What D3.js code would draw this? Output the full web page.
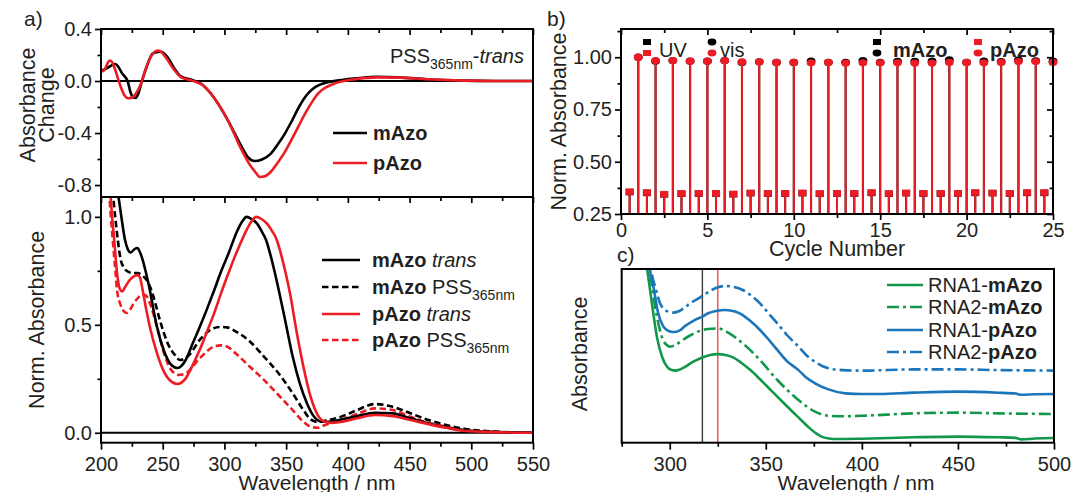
<!DOCTYPE html>
<html><head><meta charset="utf-8">
<script src="https://cdn.jsdelivr.net/npm/d3@7"></script>
<style>
body{margin:0;background:#fff}
text{font-family:"Liberation Sans",Arial,sans-serif;fill:#231f20}
</style>
</head><body>
<svg id="fig" width="1072" height="492"></svg>
<script>
// ---------- DATA ----------
// Panel a (top): absorbance change PSS365nm - trans, [wavelength nm, value]
const mAzoDiff = [[200,0.077],[203,0.09],[206,0.105],[209,0.122],[211.6,0.131],[214,0.11],[217,0.06],[221.7,-0.005],[224,-0.09],[226,-0.125],[228,-0.13],[230.5,-0.09],[233,-0.005],[237,0.11],[242,0.213],[247.7,0.226],[253.5,0.188],[259.3,0.098],[265,0.033],[273.8,0.008],[282.4,-0.031],[291,-0.121],[302.7,-0.30],[314,-0.506],[319,-0.585],[324.4,-0.615],[330,-0.605],[337.4,-0.56],[343,-0.49],[349,-0.404],[355,-0.30],[360.5,-0.198],[366,-0.115],[372,-0.057],[377,-0.03],[383.7,-0.01],[395,0.008],[406.8,0.021],[424,0.033],[441.5,0.028],[464.7,0.013],[493.6,0.003],[520,0.0],[550,0.0]];
const pAzoDiff = [[200,0.077],[201.5,0.075],[203,0.09],[205,0.13],[207,0.158],[209,0.145],[211.6,0.085],[214,0.01],[216,-0.044],[219,-0.11],[222,-0.132],[225,-0.128],[228,-0.10],[230.5,-0.06],[233,-0.005],[236.5,0.1],[240.5,0.188],[244,0.228],[246.5,0.234],[249,0.222],[252,0.188],[259.3,0.085],[265,0.028],[273.8,0.003],[282.4,-0.031],[291,-0.121],[302.7,-0.30],[314,-0.532],[320,-0.635],[325,-0.70],[328.7,-0.738],[332,-0.735],[337.4,-0.70],[343,-0.63],[349,-0.545],[355,-0.44],[360.5,-0.339],[366,-0.24],[372,-0.147],[376,-0.095],[380.8,-0.057],[389.5,-0.018],[401,0.008],[424,0.028],[441.5,0.026],[464.7,0.013],[493.6,0.003],[520,0.0],[550,0.0]];
// Panel a (bottom): normalised absorbance
const mAzoTrans = [[213.5,1.12],[216.5,1.0],[219.4,0.895],[221.7,0.85],[224,0.835],[227,0.85],[229.5,0.856],[232,0.83],[233.8,0.80],[236.5,0.74],[239.6,0.66],[242.5,0.57],[245.4,0.49],[251,0.38],[257,0.314],[262,0.30],[268.6,0.337],[274,0.41],[280,0.49],[286,0.575],[291.7,0.66],[297.5,0.75],[303.3,0.83],[310,0.93],[314,0.975],[318,1.0],[322,0.99],[327,0.965],[330,0.935],[333.6,0.895],[337,0.83],[340.9,0.74],[345,0.635],[349.6,0.51],[355.3,0.353],[361,0.23],[366.9,0.136],[372.7,0.074],[378.5,0.051],[384.3,0.051],[393,0.059],[407.4,0.077],[421.9,0.093],[436.3,0.09],[450.8,0.067],[465.3,0.043],[479.7,0.025],[494.2,0.012],[523,0.003],[550,0.0]];
const mAzoPSS = [[209.5,1.12],[211.5,1.0],[213.6,0.895],[216,0.80],[218,0.77],[222.3,0.745],[226,0.74],[229.5,0.74],[233,0.73],[236.7,0.71],[239.5,0.68],[242.5,0.63],[248.3,0.51],[254,0.415],[259.9,0.36],[264,0.337],[271.4,0.36],[280,0.43],[288.8,0.477],[296,0.49],[302,0.488],[309,0.47],[320.6,0.423],[332,0.353],[343.8,0.276],[355.3,0.183],[364,0.105],[369.8,0.062],[375.6,0.05],[381.4,0.056],[395.8,0.077],[407.4,0.105],[421.9,0.133],[436.3,0.12],[450.8,0.09],[465.3,0.059],[479.7,0.036],[494.2,0.019],[523,0.004],[550,0.0]];
const pAzoTrans = [[207.5,1.12],[209,1.0],[210.7,0.895],[213,0.74],[215,0.67],[217,0.655],[220,0.68],[223.7,0.71],[229.5,0.73],[231.5,0.72],[233.8,0.66],[236.5,0.575],[239.6,0.49],[245.4,0.368],[251,0.283],[257,0.237],[262,0.226],[268.6,0.252],[274,0.31],[280,0.384],[286,0.47],[291.7,0.554],[297.5,0.65],[303.3,0.74],[308,0.81],[312,0.864],[318,0.94],[322,0.98],[325.8,1.0],[330,0.99],[335,0.965],[338.5,0.935],[342.3,0.895],[345.7,0.83],[349.6,0.74],[353.5,0.635],[358.2,0.477],[364,0.306],[369.8,0.167],[375.6,0.082],[381.4,0.051],[387,0.046],[395.8,0.051],[407.4,0.067],[421.9,0.082],[436.3,0.077],[450.8,0.059],[465.3,0.04],[479.7,0.023],[494.2,0.009],[523,0.002],[550,0.0]];
const pAzoPSS = [[206.5,1.12],[208,1.0],[209.5,0.895],[211.5,0.76],[213,0.66],[216,0.59],[219,0.56],[220.8,0.555],[223.5,0.57],[226.6,0.60],[230,0.625],[233.8,0.64],[236.5,0.635],[239.6,0.60],[245.4,0.49],[251,0.368],[257,0.29],[262.8,0.268],[268.6,0.275],[280,0.345],[291.7,0.40],[297,0.405],[302,0.40],[309,0.368],[320.6,0.306],[332,0.245],[343.8,0.175],[355.3,0.105],[364,0.051],[369.8,0.028],[375.6,0.023],[381.4,0.036],[395.8,0.062],[407.4,0.087],[421.9,0.113],[436.3,0.105],[450.8,0.074],[465.3,0.046],[479.7,0.028],[494.2,0.012],[523,0.002],[550,0.0]];
const aTopTicks = [-0.8,-0.4,0.0,0.4];
const aTopMinor = [-0.6,-0.2,0.2];
const aBotTicks = [0.0,0.5,1.0];
const aBotMinor = [0.25,0.75];
const aXTicks = [200,250,300,350,400,450,500,550];
const aXMinor = [225,275,325,375,425,475,525];

// Panel b: switching cycles
const cyclesUV  = [0.5,1.5,2.5,3.5,4.5,5.5,6.5,7.5,8.5,9.5,10.5,11.5,12.5,13.5,14.5,15.5,16.5,17.5,18.5,19.5,20.5,21.5,22.5,23.5,24.5];
const cyclesVis = [1,2,3,4,5,6,7,8,9,10,11,12,13,14,15,16,17,18,19,20,21,22,23,24,25];
const pAzoUV  = [0.358,0.354,0.346,0.349,0.350,0.350,0.347,0.352,0.350,0.350,0.352,0.349,0.350,0.350,0.354,0.349,0.352,0.350,0.350,0.350,0.354,0.352,0.350,0.354,0.354];
const pAzoVis = [1.000,0.984,0.984,0.981,0.981,0.984,0.978,0.978,0.975,0.975,0.973,0.975,0.972,0.973,0.973,0.973,0.972,0.972,0.975,0.975,0.973,0.975,0.979,0.979,0.975];
const mAzoUV  = [0.356,0.352,0.345,0.348,0.349,0.349,0.346,0.351,0.349,0.349,0.351,0.348,0.349,0.349,0.352,0.348,0.351,0.349,0.349,0.349,0.352,0.351,0.349,0.352,0.352];
const mAzoVis = [1.000,0.981,0.984,0.981,0.981,0.984,0.975,0.978,0.975,0.975,0.982,0.976,0.976,0.984,0.975,0.980,0.980,0.981,0.988,0.975,0.981,0.979,0.986,0.983,0.981];
const bYTicks = [0.25,0.50,0.75,1.00];
const bYMinor = [0.375,0.625,0.875,1.125];
const bXTicks = [0,5,10,15,20,25];
const bXMinor = [2.5,7.5,12.5,17.5,22.5];

// Panel c: RNA-azobenzene spectra (offset, arbitrary units)
const rna1mAzo = [[287,1.1],[288.5,0.98],[290,0.86],[291.5,0.74],[293.5,0.60],[296,0.495],[298.6,0.437],[301,0.418],[303,0.415],[305,0.42],[308,0.437],[312,0.465],[317,0.491],[321,0.505],[325,0.51],[329,0.505],[333,0.491],[337,0.462],[342,0.418],[347,0.365],[352.6,0.303],[358,0.243],[363,0.188],[367.5,0.14],[372,0.092],[376,0.055],[379,0.035],[383,0.024],[386,0.021],[400,0.023],[427,0.031],[450,0.035],[471,0.031],[480,0.028],[483,0.019],[490,0.024],[500,0.027]];
const rna2mAzo = [[288,1.1],[289.5,1.0],[291,0.88],[294,0.69],[296.5,0.592],[298.5,0.562],[300,0.553],[303,0.563],[306.5,0.589],[311,0.62],[315,0.641],[320,0.655],[325,0.658],[331,0.63],[338,0.572],[347,0.476],[356,0.361],[367,0.246],[375.6,0.179],[382.6,0.155],[390,0.152],[400,0.155],[427,0.169],[450,0.173],[471,0.169],[500,0.165]];
const rna1pAzo = [[288.5,1.1],[289.6,1.0],[291.5,0.898],[294,0.745],[296.7,0.668],[299.4,0.643],[302,0.637],[305,0.645],[308,0.672],[313,0.706],[317,0.726],[320,0.745],[324,0.758],[329,0.764],[334,0.755],[338,0.735],[342,0.70],[347,0.649],[351,0.60],[356,0.534],[361,0.47],[367,0.418],[371,0.375],[375.6,0.342],[382.6,0.307],[391.5,0.284],[400,0.28],[409,0.280],[427,0.288],[450,0.294],[471,0.288],[480,0.283],[483,0.276],[490,0.279],[500,0.280]];
const rna2pAzo = [[289,1.1],[290.2,1.0],[292.4,0.898],[295,0.802],[297.7,0.764],[300,0.752],[302,0.749],[305,0.758],[308,0.78],[311,0.805],[315,0.831],[318,0.852],[322,0.88],[325,0.895],[329,0.902],[333,0.897],[338,0.879],[342,0.85],[347,0.802],[351,0.75],[356,0.687],[361,0.62],[367,0.553],[371,0.505],[375.6,0.466],[382.6,0.428],[390,0.418],[400,0.415],[427,0.422],[450,0.422],[471,0.418],[500,0.415]];
const cMarkers = [317,325];
const cXTicks = [300,350,400,450,500];
const cXMinor = [275,325,375,425,475];

// ---------- DRAW ----------
const RED = "#ed1c24", BLK = "#000", GRN = "#12984a", BLU = "#1b75bb";
const FONT = '"Liberation Sans",Arial,sans-serif';
const svg = d3.select("#fig");
svg.append("rect").attr("width",1072).attr("height",492).attr("fill","#fff");

function axis(gen, scale, vals, size, fmt, pad, tx, ty) {
  const a = gen(scale).tickValues(vals).tickSizeInner(size).tickSizeOuter(0)
    .tickPadding(pad).tickFormat(fmt || (() => ""));
  const g = svg.append("g").attr("transform", `translate(${tx},${ty})`).call(a);
  g.select(".domain").remove();
  g.selectAll("line").attr("stroke", "#000").attr("stroke-width", 1.7);
  g.selectAll("text").attr("font-size", 20).attr("font-family", FONT).attr("fill", "#231f20");
  return g;
}
function frame(x0, y0, x1, y1) {
  svg.append("rect").attr("x", x0).attr("y", y0).attr("width", x1 - x0).attr("height", y1 - y0)
    .attr("fill", "none").attr("stroke", "#000").attr("stroke-width", 2);
}
function clip(id, x0, y0, x1, y1) {
  svg.append("clipPath").attr("id", id).append("rect").attr("x", x0).attr("y", y0)
    .attr("width", x1 - x0).attr("height", y1 - y0);
}
function curve(data, xs, ys, color, dash, clipId, w) {
  const line = d3.line().x(d => xs(d[0])).y(d => ys(d[1])).curve(d3.curveMonotoneX);
  svg.append("path").attr("d", line(data)).attr("fill", "none").attr("stroke", color)
    .attr("stroke-width", w || 2.6).attr("stroke-dasharray", dash || null)
    .attr("stroke-linejoin", "round").attr("clip-path", `url(#${clipId})`);
}
function label(x, y, txt, opts = {}) {
  const t = svg.append("text").attr("x", x).attr("y", y).attr("font-size", opts.size || 21)
    .attr("text-anchor", opts.anchor || "start").attr("font-family", FONT).text(txt);
  if (opts.rotate) t.attr("transform", `rotate(-90,${x},${y})`);
  return t;
}
const f1 = d => d.toFixed(1), f2 = d => d.toFixed(2), f0 = d => String(d);

// ===== Panel a =====
const aX0 = 101, aX1 = 533, aT0 = 29, aMid = 197, aB1 = 442.7;
const xA = d3.scaleLinear().domain([200, 550]).range([aX0, aX1]);
const yAT = d3.scaleLinear().domain([-0.892, 0.4]).range([aMid, aT0]);
const yAB = d3.scaleLinear().domain([-0.046, 1.092]).range([aB1, aMid]);
clip("clipAT", aX0, aT0, aX1, aMid);
clip("clipAB", aX0, aMid, aX1, aB1);

svg.append("line").attr("x1", aX0).attr("x2", aX1).attr("y1", yAT(0)).attr("y2", yAT(0)).attr("stroke", "#000").attr("stroke-width", 1.8);
svg.append("line").attr("x1", aX0).attr("x2", aX1).attr("y1", yAB(0)).attr("y2", yAB(0)).attr("stroke", "#000").attr("stroke-width", 1.8);

curve(mAzoDiff, xA, yAT, BLK, null, "clipAT");
curve(pAzoDiff, xA, yAT, RED, null, "clipAT");
curve(mAzoPSS, xA, yAB, BLK, "6.5,3.5", "clipAB");
curve(pAzoPSS, xA, yAB, RED, "6.5,3.5", "clipAB");
curve(mAzoTrans, xA, yAB, BLK, null, "clipAB");
curve(pAzoTrans, xA, yAB, RED, null, "clipAB");

frame(aX0, aT0, aX1, aMid);
frame(aX0, aMid, aX1, aB1);
axis(d3.axisLeft, yAT, aTopTicks, 6, f1, 3, aX0, 0);
axis(d3.axisLeft, yAT, aTopMinor, 3.5, null, 3, aX0, 0);
axis(d3.axisTop, xA, aXTicks, -6, null, 3, 0, aT0);
axis(d3.axisTop, xA, aXMinor, -4, null, 3, 0, aT0);
axis(d3.axisBottom, xA, aXTicks, 6, null, 3, 0, aMid);
axis(d3.axisBottom, xA, aXMinor, 4, null, 3, 0, aMid);
axis(d3.axisLeft, yAB, aBotTicks, 6, f1, 3, aX0, 0);
axis(d3.axisLeft, yAB, aBotMinor, 3.5, null, 3, aX0, 0);
axis(d3.axisBottom, xA, aXTicks, 7, f0, 7, 0, aB1);
axis(d3.axisBottom, xA, aXMinor, 4, null, 3, 0, aB1);

label(24, 26, "a)");
label(35, 105, "Absorbance", {rotate: true, anchor: "middle", size: 21.5});
label(54, 105, "Change", {rotate: true, anchor: "middle", size: 21.5});
label(44, (aMid + aB1) / 2, "Norm. Absorbance", {rotate: true, anchor: "middle", size: 21.5});
label((aX0 + aX1) / 2, 490, "Wavelength / nm", {anchor: "middle", size: 21});

{
  const t = svg.append("text").attr("x", 524).attr("y", 63).attr("text-anchor", "end")
    .attr("font-size", 20).attr("font-family", FONT);
  t.append("tspan").text("PSS");
  t.append("tspan").attr("font-size", 14).attr("dy", 6).text("365nm");
  t.append("tspan").attr("dy", -6).text("-");
  t.append("tspan").attr("font-style", "italic").text("trans");
}
function legLine(x0, x1, y, color, dash, w) {
  svg.append("line").attr("x1", x0).attr("x2", x1).attr("y1", y).attr("y2", y)
    .attr("stroke", color).attr("stroke-width", w || 2.6).attr("stroke-dasharray", dash || null);
}
function legText(x, y, parts) {
  const t = svg.append("text").attr("x", x).attr("y", y).attr("font-size", 20).attr("font-family", FONT);
  parts.forEach(p => {
    const s = t.append("tspan").text(p.t);
    if (p.b) s.attr("font-weight", "bold");
    if (p.i) s.attr("font-style", "italic");
    if (p.sub) s.attr("font-size", 14).attr("dy", 6);
  });
}
legLine(333, 367, 133, BLK); legText(373, 140, [{t: "mAzo", b: 1}]);
legLine(333, 367, 163, RED); legText(373, 170, [{t: "pAzo", b: 1}]);
legLine(322, 360, 260, BLK); legText(372, 267, [{t: "mAzo", b: 1}, {t: " "}, {t: "trans", i: 1}]);
legLine(322, 360, 287, BLK, "6.5,3.5"); legText(372, 294, [{t: "mAzo", b: 1}, {t: " PSS"}, {t: "365nm", sub: 1}]);
legLine(322, 360, 314, RED); legText(372, 321, [{t: "pAzo", b: 1}, {t: " "}, {t: "trans", i: 1}]);
legLine(322, 360, 340, RED, "6.5,3.5"); legText(372, 347, [{t: "pAzo", b: 1}, {t: " PSS"}, {t: "365nm", sub: 1}]);

// ===== Panel b =====
const bX0 = 621, bX1 = 1053, bT = 29, bB = 214;
const xB = d3.scaleLinear().domain([0, 25]).range([bX0, bX1]);
const yB = d3.scaleLinear().domain([0.25, 1.135]).range([bB, bT]);
clip("clipB", bX0, bT, bX1 + 6, bB);
function stems(xs, vals, color, shape) {
  const g = svg.append("g").attr("clip-path", "url(#clipB)");
  xs.forEach((c, i) => {
    g.append("line").attr("x1", xB(c)).attr("x2", xB(c)).attr("y1", yB(0.25)).attr("y2", yB(vals[i]))
      .attr("stroke", color).attr("stroke-width", 2);
    if (shape === "sq") {
      g.append("rect").attr("x", xB(c) - 4).attr("y", yB(vals[i]) - 3).attr("width", 8).attr("height", 6.5).attr("fill", color);
    } else {
      g.append("ellipse").attr("cx", xB(c)).attr("cy", yB(vals[i])).attr("rx", 4.4).attr("ry", 3.6).attr("fill", color);
    }
  });
}
stems(cyclesUV, mAzoUV, BLK, "sq");
stems(cyclesVis, mAzoVis, BLK, "ci");
stems(cyclesUV, pAzoUV, RED, "sq");
stems(cyclesVis, pAzoVis, RED, "ci");

frame(bX0, bT, bX1, bB);
axis(d3.axisLeft, yB, bYTicks, 6, f2, 3, bX0, 0);
axis(d3.axisLeft, yB, bYMinor, 3.5, null, 3, bX0, 0);
axis(d3.axisRight, yB, bYTicks, -6, null, 3, bX1, 0);
axis(d3.axisRight, yB, bYMinor, -3.5, null, 3, bX1, 0);
axis(d3.axisTop, xB, bXTicks, -6, null, 3, 0, bT);
axis(d3.axisTop, xB, bXMinor, -4, null, 3, 0, bT);
axis(d3.axisBottom, xB, bXTicks, 6, f0, 2.5, 0, bB);
axis(d3.axisBottom, xB, bXMinor, 4, null, 3, 0, bB);

label(547, 26, "b)");
label(566, (bT + bB) / 2, "Norm. Absorbance", {rotate: true, anchor: "middle", size: 21.5});
label((bX0 + bX1) / 2, 256, "Cycle Number", {anchor: "middle", size: 21.5});

function mk(x, y, color, shape) {
  if (shape === "sq") svg.append("rect").attr("x", x - 4).attr("y", y - 3).attr("width", 8).attr("height", 6).attr("fill", color);
  else svg.append("ellipse").attr("cx", x).attr("cy", y).attr("rx", 4.4).attr("ry", 3.4).attr("fill", color);
}
mk(647, 42, BLK, "sq"); mk(647, 53, RED, "sq"); legText(659, 57, [{t: "UV"}]);
mk(712, 42, BLK, "ci"); mk(712, 53, RED, "ci"); legText(720, 57, [{t: "vis"}]);
mk(877, 42, BLK, "sq"); mk(877, 53, BLK, "ci"); legText(893, 57, [{t: "mAzo", b: 1}]);
mk(978, 42, RED, "sq"); mk(978, 53, RED, "ci"); legText(990, 57, [{t: "pAzo", b: 1}]);

// ===== Panel c =====
const cX0 = 621.7, cX1 = 1054, cT = 269, cB = 442.7;
const xC = d3.scaleLinear().domain([275, 500]).range([cX0, cX1]);
const yC = d3.scaleLinear().domain([0, 1]).range([cB, cT]);
clip("clipC", cX0, cT, cX1, cB);
svg.append("line").attr("x1", xC(cMarkers[0])).attr("x2", xC(cMarkers[0])).attr("y1", cT).attr("y2", cB)
  .attr("stroke", "#3a3a3a").attr("stroke-width", 1.4);
svg.append("line").attr("x1", xC(cMarkers[1])).attr("x2", xC(cMarkers[1])).attr("y1", cT).attr("y2", cB)
  .attr("stroke", "#ee4b55").attr("stroke-width", 1.4);
const DD = "12,4,3,4";
curve(rna1mAzo, xC, yC, GRN, null, "clipC", 2.6);
curve(rna2mAzo, xC, yC, GRN, DD, "clipC", 2.6);
curve(rna1pAzo, xC, yC, BLU, null, "clipC", 2.6);
curve(rna2pAzo, xC, yC, BLU, DD, "clipC", 2.6);
frame(cX0, cT, cX1, cB);
axis(d3.axisBottom, xC, cXTicks, 7, f0, 7, 0, cB);
axis(d3.axisBottom, xC, cXMinor, 4, null, 3, 0, cB);

label(617, 262, "c)");
label(587, (cT + cB) / 2 - 2, "Absorbance", {rotate: true, anchor: "middle", size: 21.5});
label(856, 490, "Wavelength / nm", {anchor: "middle", size: 21});

legLine(887, 923, 285, GRN); legText(928, 292, [{t: "RNA1-"}, {t: "mAzo", b: 1}]);
legLine(887, 923, 307, GRN, DD); legText(928, 314, [{t: "RNA2-"}, {t: "mAzo", b: 1}]);
legLine(887, 923, 330, BLU); legText(928, 337, [{t: "RNA1-"}, {t: "pAzo", b: 1}]);
legLine(887, 923, 352, BLU, DD); legText(928, 359, [{t: "RNA2-"}, {t: "pAzo", b: 1}]);
</script>
</body></html>
